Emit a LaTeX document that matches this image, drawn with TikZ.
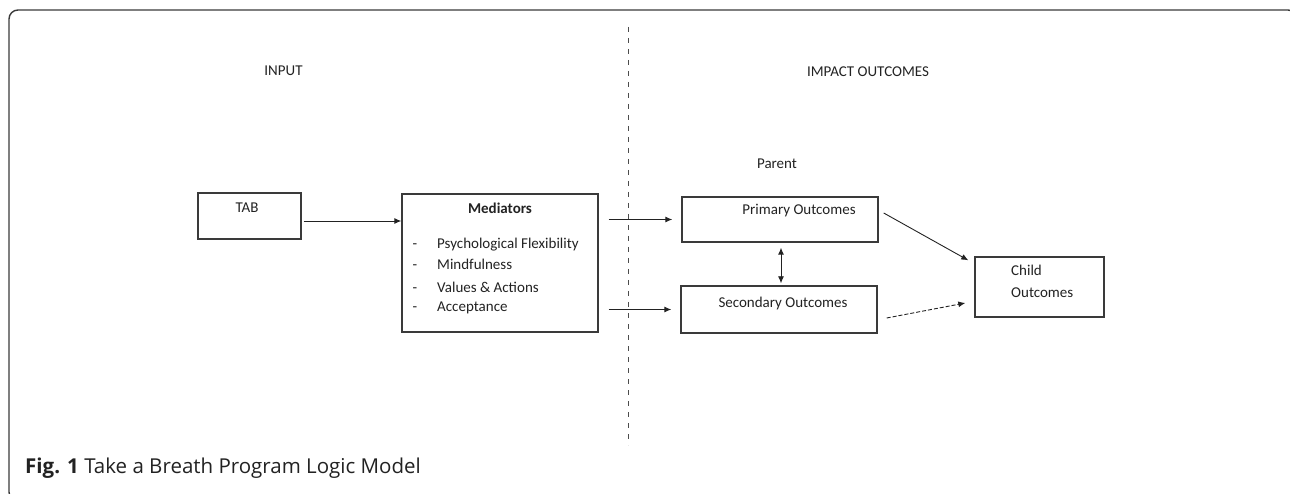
\documentclass[tikz,border=0pt]{standalone}
\usepackage{fontspec}
\setmainfont{Carlito}
\newfontfamily\capfont{Open Sans}
\usetikzlibrary{arrows.meta}
\definecolor{ink}{HTML}{222222}
\definecolor{boxline}{HTML}{3a3a3a}
\tikzset{
  box/.style={draw=boxline, line width=1.4pt, minimum width=#1, inner sep=0pt},
  lbl/.style={text=ink, font=\fontsize{15}{18}\selectfont, inner sep=0pt, anchor=base},
  arr/.style={draw=ink, line width=0.9pt, -{Latex[length=7pt,width=6pt]}},
  darr/.style={draw=ink, line width=0.9pt, {Latex[length=7pt,width=6pt]}-{Latex[length=7pt,width=6pt]}},
}
\begin{document}
\begin{tikzpicture}[x=1pt,y=-1pt]
\useasboundingbox (0,0) rectangle (1290,494);
\begin{scope}
\clip (0,0) rectangle (1290,494);
\draw[draw=boxline, line width=1.4pt, rounded corners=9pt] (9,10) rectangle (1297,501);
\end{scope}
% divider
\draw[draw=black!70, line width=1pt, dash pattern=on 5pt off 6pt] (628,27) -- (628,445);
% headings
\node[lbl] (input) at (283.5,76) {INPUT};
\node[lbl] (impact) at (868,77) {IMPACT OUTCOMES};
\node[lbl] (parent) at (777,169) {Parent};
% boxes
\node[box=103pt, minimum height=46pt] (tab) at (249.5,216) {};
\node[lbl] (tabt) at (247,213) {TAB};
\node[box=196pt, minimum height=138pt] (med) at (500,263) {};
\node[lbl, font=\fontsize{15}{18}\selectfont\bfseries] (medt) at (500,214) {Mediators};
\foreach \y/\t [count=\i] in {249/Psychological Flexibility, 270/Mindfulness, 292/Values \& Actions, 312/Acceptance}{
  \node[lbl] (dash\i) at (415,\y) {-};
  \node[lbl, anchor=base west] (item\i) at (437,\y) {\t};
}
\node[box=196pt, minimum height=45pt] (prim) at (780,219.5) {};
\node[lbl] (primt) at (799,215) {Primary Outcomes};
\node[box=196pt, minimum height=47pt] (sec) at (779,309.5) {};
\node[lbl] (sect) at (783,307) {Secondary Outcomes};
\node[box=129pt, minimum height=60pt] (child) at (1039.5,287) {};
\node[lbl, anchor=base west] (childt1) at (1011,276) {Child};
\node[lbl, anchor=base west] (childt2) at (1011,298) {Outcomes};
% connectors
\draw[arr] ([xshift=2pt,yshift=-5pt]tab.east) -- ([yshift=-5pt]tab.east -| med.west);
\draw[arr] ([xshift=10pt]med.east |- prim.west) -- ([xshift=-9pt]prim.west);
\draw[arr] ([xshift=10pt]med.east |- sec.west) -- ([xshift=-9pt]sec.west);
\draw[darr] ([xshift=1pt,yshift=-5pt]prim.south) -- ([xshift=2pt,yshift=2pt]sec.north);
\draw[arr] ([xshift=5pt,yshift=6.5pt]prim.east) -- ([xshift=-6pt,yshift=-4pt]child.north west);
\draw[arr, dash pattern=on 4pt off 2pt] ([xshift=9pt,yshift=-8.5pt]sec.east) -- ([xshift=-9pt,yshift=-16pt]child.west);
% caption
\node[anchor=base west, inner sep=0pt, text=ink, font=\capfont\fontsize{20.5}{24}\selectfont] (cap) at (25,473) {\textbf{Fig. 1} Take a Breath Program Logic Model};
\end{tikzpicture}
\end{document}
